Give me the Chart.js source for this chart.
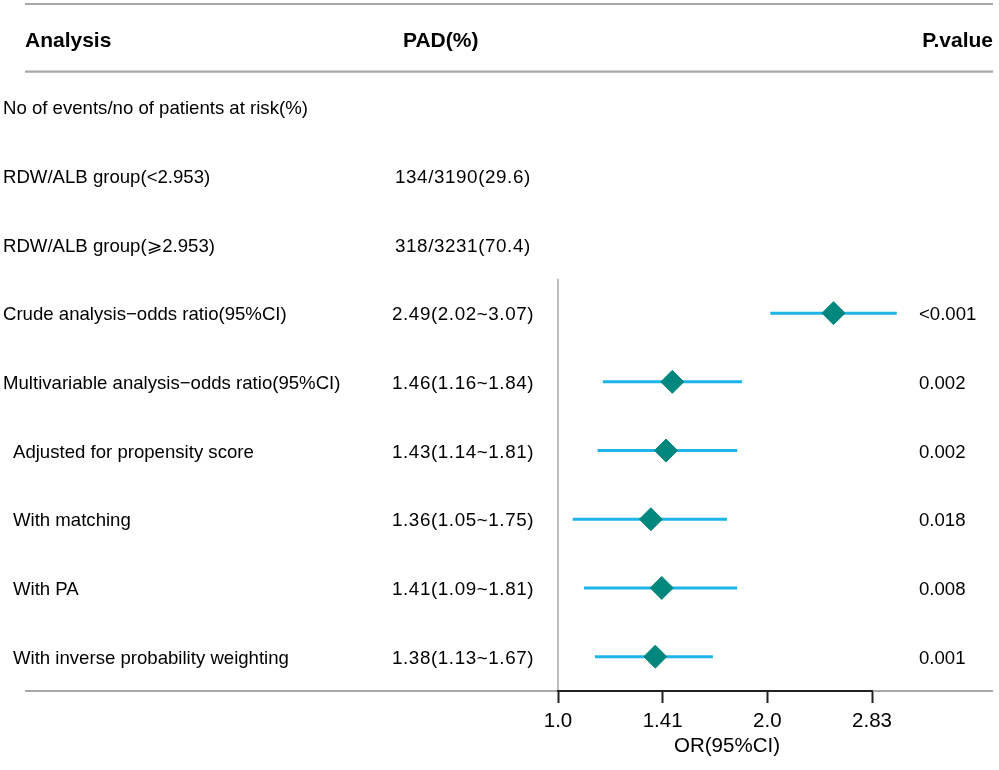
<!DOCTYPE html>
<html>
<head>
<meta charset="utf-8">
<script src="https://cdn.jsdelivr.net/npm/chart.js@4.4.1/dist/chart.umd.min.js"></script>
<style>
  html, body { margin: 0; padding: 0; background: #ffffff; }
  #wrap { width: 999px; height: 770px; position: relative; }
</style>
</head>
<body>
<div id="wrap"><canvas id="c" width="999" height="770"></canvas></div>
<script>
// ---- data ----
const headers = ["Analysis", "PAD(%)", "P.value"];
const rowLabels = [
  "No of events/no of patients at risk(%)",
  "RDW/ALB group(<2.953)",
  "RDW/ALB group(\u2A7E2.953)",
  "Crude analysis\u2212odds ratio(95%CI)",
  "Multivariable analysis\u2212odds ratio(95%CI)",
  "Adjusted for propensity score",
  "With matching",
  "With PA",
  "With inverse probability weighting"
];
const rowIndent = [false, false, false, false, false, true, true, true, true];
const eventCounts = ["", "134/3190(29.6)", "318/3231(70.4)"];
const orRows = [4, 5, 6, 7, 8, 9];
const orValues = [2.49, 1.46, 1.43, 1.36, 1.41, 1.38];
const ciLow = [2.02, 1.16, 1.14, 1.05, 1.09, 1.13];
const ciHigh = [3.07, 1.84, 1.81, 1.75, 1.81, 1.67];
const pValues = ["<0.001", "0.002", "0.002", "0.018", "0.008", "0.001"];
const tickValues = [1.0, Math.SQRT2, 2.0, 2 * Math.SQRT2];
const tickLabels = ["1.0", "1.41", "2.0", "2.83"];
const axisTitle = "OR(95%CI)";

// ---- styles ----
const FONT = "'Liberation Sans', Arial, 'DejaVu Sans', sans-serif";
const DIAMOND = "#00877D";
const CI_COLOR = "#1DB4E8";
const RULE = "#A8A8A8";

const ciDatasets = orRows.map((r, i) => ({
  type: "scatter",
  data: [{ x: ciLow[i], y: r }, { x: ciHigh[i], y: r }],
  showLine: true,
  borderColor: CI_COLOR,
  borderWidth: 3,
  pointRadius: 0,
  clip: false,
  order: 2
}));

const pointDataset = {
  type: "scatter",
  data: orRows.map((r, i) => ({ x: orValues[i], y: r })),
  pointStyle: "rectRot",
  pointRadius: 11.5,
  pointBackgroundColor: DIAMOND,
  pointBorderColor: DIAMOND,
  pointBorderWidth: 1,
  clip: false,
  order: 1
};

const tablePlugin = {
  id: "table",
  beforeDraw(chart) {
    const ctx = chart.ctx;
    const y = chart.scales.y, x = chart.scales.x;
    ctx.save();
    ctx.fillStyle = "#fff";
    ctx.fillRect(0, 0, chart.width, chart.height);
    ctx.strokeStyle = RULE;
    ctx.lineWidth = 2.2;
    const hl = (py) => { ctx.beginPath(); ctx.moveTo(25, py); ctx.lineTo(993, py); ctx.stroke(); };
    hl(y.getPixelForValue(-0.5));
    hl(y.getPixelForValue(0.5) - 1);
    hl(y.bottom);
    // reference line at OR = 1
    ctx.lineWidth = 1.5;
    const x1 = x.getPixelForValue(1);
    ctx.beginPath();
    ctx.moveTo(x1, y.getPixelForValue(3.5));
    ctx.lineTo(x1, y.bottom);
    ctx.stroke();
    ctx.restore();
  },
  afterDraw(chart) {
    const ctx = chart.ctx;
    const y = chart.scales.y, x = chart.scales.x;
    ctx.save();
    ctx.fillStyle = "#000";
    ctx.textBaseline = "middle";
    // headers
    ctx.font = "bold 21px " + FONT;
    const hy = y.getPixelForValue(0) + 3;
    ctx.textAlign = "left";
    ctx.fillText(headers[0], 25, hy);
    ctx.fillText(headers[1], 403, hy);
    ctx.textAlign = "right";
    ctx.fillText(headers[2], 993, hy);
    // rows
    ctx.textAlign = "left";
    ctx.font = "18.6px " + FONT;
    rowLabels.forEach((t, i) => {
      const py = y.getPixelForValue(i + 1) + 2;
      ctx.fillText(t, rowIndent[i] ? 13 : 3, py);
    });
    orRows.forEach((r, i) => {
      ctx.fillText(pValues[i], 919, y.getPixelForValue(r) + 2);
    });
    ctx.font = "18.8px " + FONT;
    if ("letterSpacing" in ctx) ctx.letterSpacing = "0.6px";
    eventCounts.forEach((t, i) => {
      if (t) ctx.fillText(t, 395, y.getPixelForValue(i + 1) + 2);
    });
    orRows.forEach((r, i) => {
      const py = y.getPixelForValue(r) + 2;
      const s = orValues[i].toFixed(2) + "(" + ciLow[i].toFixed(2) + "~" + ciHigh[i].toFixed(2) + ")";
      ctx.fillText(s, 392, py);
    });
    if ("letterSpacing" in ctx) ctx.letterSpacing = "0px";
    // axis title
    ctx.font = "20.5px " + FONT;
    ctx.textAlign = "center";
    ctx.fillText(axisTitle, 727, 746);
    ctx.restore();
  }
};

new Chart(document.getElementById("c"), {
  data: { datasets: [...ciDatasets, pointDataset] },
  options: {
    responsive: false,
    animation: false,
    devicePixelRatio: 1,
    layout: { autoPadding: false, padding: { left: 558, right: 127, top: 4, bottom: 0 } },
    plugins: { legend: { display: false }, tooltip: { enabled: false }, title: { display: false } },
    scales: {
      x: {
        type: "logarithmic",
        position: "bottom",
        min: 1,
        max: 2 * Math.SQRT2,
        afterBuildTicks: (scale) => { scale.ticks = tickValues.map(v => ({ value: v })); },
        afterFit: (scale) => { scale.height = 79; },
        ticks: {
          autoSkip: false,
          maxRotation: 0,
          padding: 6,
          color: "#000",
          font: { family: FONT, size: 20.5 },
          callback: (v, i) => tickLabels[i]
        },
        grid: { display: true, drawOnChartArea: false, drawTicks: true, tickLength: 12, tickColor: "#222", tickWidth: 2 },
        border: { display: true, color: "#222", width: 2 }
      },
      y: {
        type: "linear",
        display: false,
        reverse: true,
        min: -0.5,
        max: 9.5
      }
    }
  },
  plugins: [tablePlugin]
});
</script>
</body>
</html>
